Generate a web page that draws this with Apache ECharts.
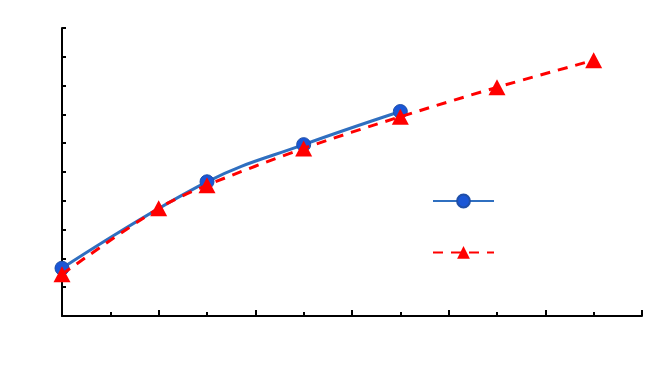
<!DOCTYPE html>
<html>
<head>
<meta charset="utf-8">
<script src="https://cdn.jsdelivr.net/npm/echarts@6/dist/echarts.min.js"></script>
<style>html,body{margin:0;padding:0;background:#fff}#c{width:660px;height:377px}</style>
</head>
<body>
<div id="c"></div>
<script>
const blueX = [0, 3, 5, 7];
const blueY = [1.66, 4.66, 5.95, 7.1];
const redX = [0, 2, 3, 5, 7, 9, 11];
const redY = [1.45, 3.74, 4.54, 5.82, 6.92, 7.94, 8.88];

const chart = echarts.init(document.getElementById('c'));
chart.setOption({
  animation: false,
  backgroundColor: '#fff',
  grid: { left: 62, right: 18, top: 28, bottom: 61 },
  legend: {
    orient: 'vertical', left: 427, top: 188, itemWidth: 61, itemHeight: 16, itemGap: 36,
    formatter: () => '', selectedMode: false,
    data: ['A', 'B']
  },
  xAxis: {
    type: 'value', min: 0, max: 12, interval: 2,
    axisLine: { lineStyle: { color: '#000', width: 2 } },
    axisTick: { inside: true, length: 6, lineStyle: { color: '#000', width: 2 } },
    minorTick: { show: true, splitNumber: 2, length: 4, lineStyle: { color: '#000', width: 2 } },
    axisLabel: { show: false }, splitLine: { show: false }
  },
  yAxis: {
    type: 'value', min: 0, max: 10, interval: 1,
    axisLine: { show: true, lineStyle: { color: '#000', width: 2 } },
    axisTick: { show: true, inside: true, length: 4, lineStyle: { color: '#000', width: 2 } },
    axisLabel: { show: false }, splitLine: { show: false }
  },
  series: [
    {
      name: 'A', type: 'line', smooth: 0.4,
      data: blueX.map((x, i) => [x, blueY[i]]),
      symbol: 'circle', symbolSize: 14,
      lineStyle: { color: '#2f6fc0', width: 3 },
      itemStyle: { color: '#1a56d6', borderColor: '#1f4fa8', borderWidth: 1 },
      z: 2
    },
    {
      name: 'B', type: 'line', smooth: 0.3,
      data: redX.map((x, i) => [x, redY[i]]),
      symbol: 'triangle', symbolSize: [17, 16],
      lineStyle: { color: '#ff0000', width: 3, type: [10, 8] },
      itemStyle: { color: '#ff0000' },
      z: 3
    }
  ]
});
</script>
</body>
</html>
